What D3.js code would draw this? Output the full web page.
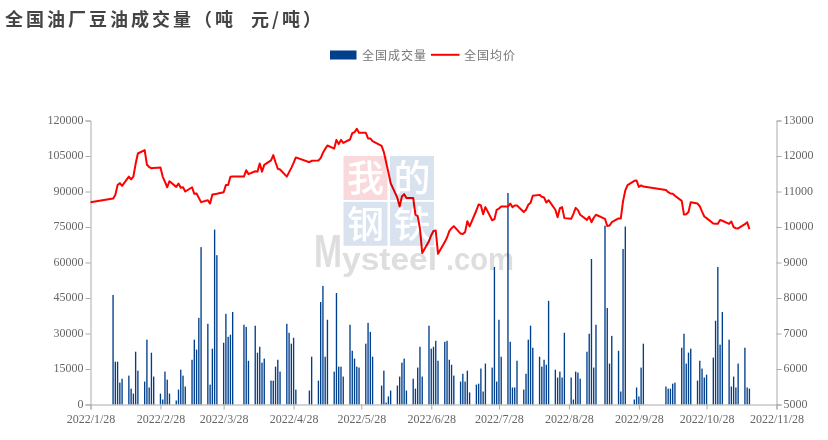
<!DOCTYPE html>
<html><head><meta charset="utf-8">
<script src="https://cdn.jsdelivr.net/npm/d3@7"></script>
<style>
html,body{margin:0;padding:0;background:#fff;}
svg{display:block;}
</style></head><body>
<svg id="c" width="828" height="440"></svg>
<script>
const titleText = "全国油厂豆油成交量（吨";
const titleUnit = "元/吨）";
const volumeName = "全国成交量";
const priceName = "全国均价";
const tickDates = ["01-28","02-28","03-28","04-28","05-28","06-28","07-28","08-28","09-28","10-28","11-28"];

const volumeDates = [
"02-07","02-08","02-09","02-10","02-11","02-14","02-15","02-16","02-17","02-18",
"02-21","02-22","02-23","02-24","02-25","02-28","03-01","03-02","03-03","03-04",
"03-07","03-08","03-09","03-10","03-11","03-14","03-15","03-16","03-17","03-18",
"03-21","03-22","03-23","03-24","03-25","03-28","03-29","03-30","03-31","04-01",
"04-06","04-07","04-08","04-11","04-12","04-13","04-14","04-15",
"04-18","04-19","04-20","04-21","04-22","04-25","04-26","04-27","04-28","04-29",
"05-05","05-06","05-09","05-10","05-11","05-12","05-13","05-16","05-17","05-18","05-19","05-20",
"05-23","05-24","05-25","05-26","05-27","05-30","05-31","06-01","06-02",
"06-06","06-07","06-08","06-09","06-10","06-13","06-14","06-15","06-16","06-17",
"06-20","06-21","06-22","06-23","06-24","06-27","06-28","06-29","06-30","07-01",
"07-04","07-05","07-06","07-07","07-08","07-11","07-12","07-13","07-14","07-15",
"07-18","07-19","07-20","07-21","07-22","07-25","07-26","07-27","07-28","07-29",
"08-01","08-02","08-03","08-04","08-05","08-08","08-09","08-10","08-11","08-12",
"08-15","08-16","08-17","08-18","08-19","08-22","08-23","08-24","08-25","08-26",
"08-29","08-30","08-31","09-01","09-02","09-05","09-06","09-07","09-08","09-09",
"09-13","09-14","09-15","09-16","09-19","09-20","09-21","09-22",
"09-26","09-27","09-28","09-29","09-30",
"10-10","10-11","10-12","10-13","10-14","10-17","10-18","10-19","10-20","10-21",
"10-24","10-25","10-26","10-27","10-28","10-31","11-01","11-02","11-03","11-04",
"11-07","11-08","11-09","11-10","11-11","11-14","11-15","11-16"];
const volumeValues = [
46300,18100,18100,9260,10900,12200,6700,4600,22300,14300,
9700,27400,7200,21900,11800,4600,2100,13900,10500,4600,
1700,6300,14700,12200,7600,18900,27400,23200,36600,66500,
34100,8400,23600,73900,63100,26100,38300,28600,29500,39100,
33700,32800,18500,33300,21900,24400,17700,19400,
10100,10100,16000,18900,13900,34100,30300,25700,28200,6300,
5900,20200,10100,43300,50100,20200,35800,13900,47100,16000,16000,11800,
33700,22700,19400,16000,15600,25700,34500,30700,20200,
8000,14300,800,3400,5900,8000,11800,17700,19400,5900,
10900,6700,15600,24400,11800,33300,23600,24400,26900,18500,
26500,26900,18900,16800,12200,9700,13000,9700,14300,5100,
8400,8800,15200,5500,17300,15600,58100,9700,35800,20200,
89400,26500,7200,7200,18500,6300,13000,27400,33300,24000,
20200,16000,18900,16800,43800,14700,11400,13900,11400,30300,
11400,2100,13900,13500,10900,22300,29900,61500,15600,33700,
75600,40800,17300,29000,22700,5500,65700,75200,
2100,7200,3400,15600,25700,
7600,6700,6700,8800,9260,24000,29900,17300,21900,23600,
10100,18500,15200,11400,12600,19800,35400,58100,25300,39100,
27400,7600,11800,7200,17300,24000,7200,6700];

const priceDates = [
"01-28","02-07","02-08","02-09","02-10","02-11","02-14","02-15","02-16","02-17","02-18",
"02-21","02-22","02-23","02-24","02-25","02-28","03-01","03-02","03-03","03-04",
"03-07","03-08","03-09","03-10","03-11","03-14","03-15","03-16","03-17","03-18",
"03-21","03-22","03-23","03-24","03-25","03-28","03-29","03-30","03-31","04-01",
"04-06","04-07","04-08","04-11","04-12","04-13","04-14","04-15",
"04-18","04-19","04-20","04-21","04-22","04-25","04-26","04-27","04-28","04-29",
"05-05","05-06","05-09","05-10","05-11","05-12","05-13","05-16","05-17","05-18","05-19","05-20",
"05-23","05-24","05-25","05-26","05-27","05-30","05-31","06-01","06-02",
"06-06","06-07","06-08","06-09","06-10","06-13","06-14","06-15","06-16","06-17",
"06-20","06-21","06-22","06-23","06-24","06-27","06-28","06-29","06-30","07-01",
"07-04","07-05","07-06","07-07","07-08","07-11","07-12","07-13","07-14","07-15",
"07-18","07-19","07-20","07-21","07-22","07-25","07-26","07-27","07-28","07-29",
"08-01","08-02","08-03","08-04","08-05","08-08","08-09","08-10","08-11","08-12",
"08-15","08-16","08-17","08-18","08-19","08-22","08-23","08-24","08-25","08-26",
"08-29","08-30","08-31","09-01","09-02","09-05","09-06","09-07","09-08","09-09",
"09-13","09-14","09-15","09-16","09-19","09-20","09-21","09-22","09-23",
"09-26","09-27","09-28","09-29","09-30",
"10-10","10-11","10-12","10-13","10-14","10-17","10-18","10-19","10-20","10-21",
"10-24","10-25","10-26","10-27","10-28","10-31","11-01","11-02","11-03","11-04",
"11-07","11-08","11-09","11-10","11-11","11-14","11-15","11-16"];
const priceValues = [
10700,10800,10900,11180,11235,11160,11420,11340,11420,11780,12070,
12165,11760,11685,11655,11665,11675,11420,11270,11120,11290,
11130,11225,11105,11120,11000,11120,10935,10945,10820,10700,
10755,10660,10915,10925,10935,10980,11180,11180,11415,11420,
11420,11600,11490,11570,11560,11790,11560,11750,
11875,12025,11825,11640,11620,11420,11545,11665,11805,11960,
11825,11865,11875,11940,12090,12200,12295,12210,12455,12335,12455,12370,
12465,12645,12670,12765,12655,12655,12495,12495,12420,
12285,12110,11825,11545,11235,10820,10575,10860,10925,10820,
10820,10345,10305,9950,9270,9600,9770,9885,9900,9245,
9575,9705,9885,9965,10025,9815,9805,9855,10165,10015,
10465,10635,10605,10360,10560,10190,10220,10485,10520,10575,
10575,10660,10560,10605,10605,10425,10485,10625,10680,10880,
10905,10850,10830,10690,10755,10485,10275,10530,10560,10250,
10230,10370,10540,10475,10345,10200,10295,10135,10260,10345,
10230,10030,10040,10135,10240,10240,10730,11030,11180,
11300,11310,11130,11170,11140,
11045,10980,10945,10935,10880,10735,10350,10360,10420,10700,
10660,10585,10435,10295,10250,10100,10090,10090,10200,10175,
10090,10155,9995,9965,9960,10080,10135,9940];

const parse = s => new Date(Date.UTC(2022, +s.slice(0,2)-1, +s.slice(3)));
const svg = d3.select("#c");
const W = {l:90.5, r:776.5, t:120.5, b:404.5};
const serif = "'Liberation Serif','Times New Roman',serif";
const cjk = "'Noto Sans CJK SC','Noto Sans',sans-serif";

const x = d3.scaleUtc().domain([parse("01-28"), parse("11-28")]).range([W.l, W.r]);
const yL = d3.scaleLinear().domain([0,120000]).range([W.b, W.t]);
const yR = d3.scaleLinear().domain([5000,13000]).range([W.b, W.t]);

function styleAxis(g){
  g.selectAll("path.domain,line").attr("stroke","#aaa").attr("stroke-width",1);
  g.selectAll("text").attr("fill","#666").attr("font-family",serif).attr("font-size",12);
}

// watermark underlay text is drawn last; title first
const tt = svg.append("text").attr("x",5).attr("y",26).attr("font-family",cjk).attr("font-size",18)
  .attr("font-weight",700).attr("fill","#444").attr("letter-spacing",3);
tt.append("tspan").text(titleText);
tt.append("tspan").attr("x",251).text(titleUnit);

// legend
svg.append("rect").attr("x",330).attr("y",50.5).attr("width",26.5).attr("height",9).attr("fill","#003f8c");
svg.append("text").attr("x",362).attr("y",59.5).attr("font-family",cjk).attr("font-size",12)
  .attr("letter-spacing",1).attr("fill","#777").text(volumeName);
svg.append("line").attr("x1",431).attr("x2",459.5).attr("y1",54.8).attr("y2",54.8)
  .attr("stroke","#ff0000").attr("stroke-width",2);
svg.append("text").attr("x",464).attr("y",59.5).attr("font-family",cjk).attr("font-size",12)
  .attr("letter-spacing",1).attr("fill","#777").text(priceName);

// bars
const barW = 1.35;
svg.append("g").selectAll("rect").data(volumeDates).join("rect")
  .attr("x",d=>x(parse(d))-barW/2)
  .attr("width",barW)
  .attr("y",(d,i)=>yL(volumeValues[i]))
  .attr("height",(d,i)=>yL(0)-yL(volumeValues[i]))
  .attr("fill","#003f8c");

// axes
svg.append("g").attr("transform",`translate(${W.l},0)`)
  .call(d3.axisLeft(yL).tickValues(d3.range(0,120001,15000)).tickFormat(d3.format("d")).tickSize(5).tickPadding(2))
  .call(styleAxis)
  .call(g=>g.selectAll("text").attr("dy","0.24em"));
svg.append("g").attr("transform",`translate(${W.r},0)`)
  .call(d3.axisRight(yR).tickValues(d3.range(5000,13001,1000)).tickFormat(d3.format("d")).tickSize(5).tickPadding(2))
  .call(styleAxis)
  .call(g=>g.selectAll("text").attr("dy","0.24em"));
svg.append("g").attr("transform",`translate(0,${W.b})`)
  .call(d3.axisBottom(x).tickValues(tickDates.map(parse))
     .tickFormat(d=>`2022/${d.getUTCMonth()+1}/${d.getUTCDate()}`).tickSize(5).tickPadding(5))
  .call(styleAxis);

// line
const line = d3.line().x(d=>x(parse(d))).y((d,i)=>yR(priceValues[i]));
svg.append("path").attr("d",line(priceDates)).attr("fill","none").attr("stroke","#ff0000")
  .attr("stroke-width",2).attr("stroke-linejoin","round");

// watermark
const wm = svg.append("g").style("mix-blend-mode","multiply");
const blockChars = ["我","的","钢","铁"];
const blockFill = ["#f9d9dc","#d9e3f0","#d9e3f0","#d9e3f0"];
const blockX = [343.5,390];
const blockY = [156,201.8];
blockChars.forEach((c,i)=>{
  const bx = blockX[i%2], by = blockY[i>>1];
  wm.append("rect").attr("x",bx).attr("y",by).attr("width",44).attr("height",44).attr("fill",blockFill[i]);
  wm.append("text").attr("x",bx+22).attr("y",by+36).attr("text-anchor","middle")
    .attr("font-family",cjk).attr("font-weight",500).attr("font-size",37).attr("fill","#fff").text(c);
});
const markFont = "'Liberation Sans',Arial,sans-serif";
const markText = [["M",314,267,47,28],["ysteel",342,270,32,95],[".com",446,270,32,68]];
markText.forEach(m=>{
  wm.append("text").attr("x",m[1]).attr("y",m[2]).attr("font-family",markFont).attr("font-weight",700)
    .attr("font-size",m[3]).attr("textLength",m[4]).attr("lengthAdjust","spacingAndGlyphs")
    .attr("fill","#dedede").text(m[0]);
});
</script>
</body></html>
